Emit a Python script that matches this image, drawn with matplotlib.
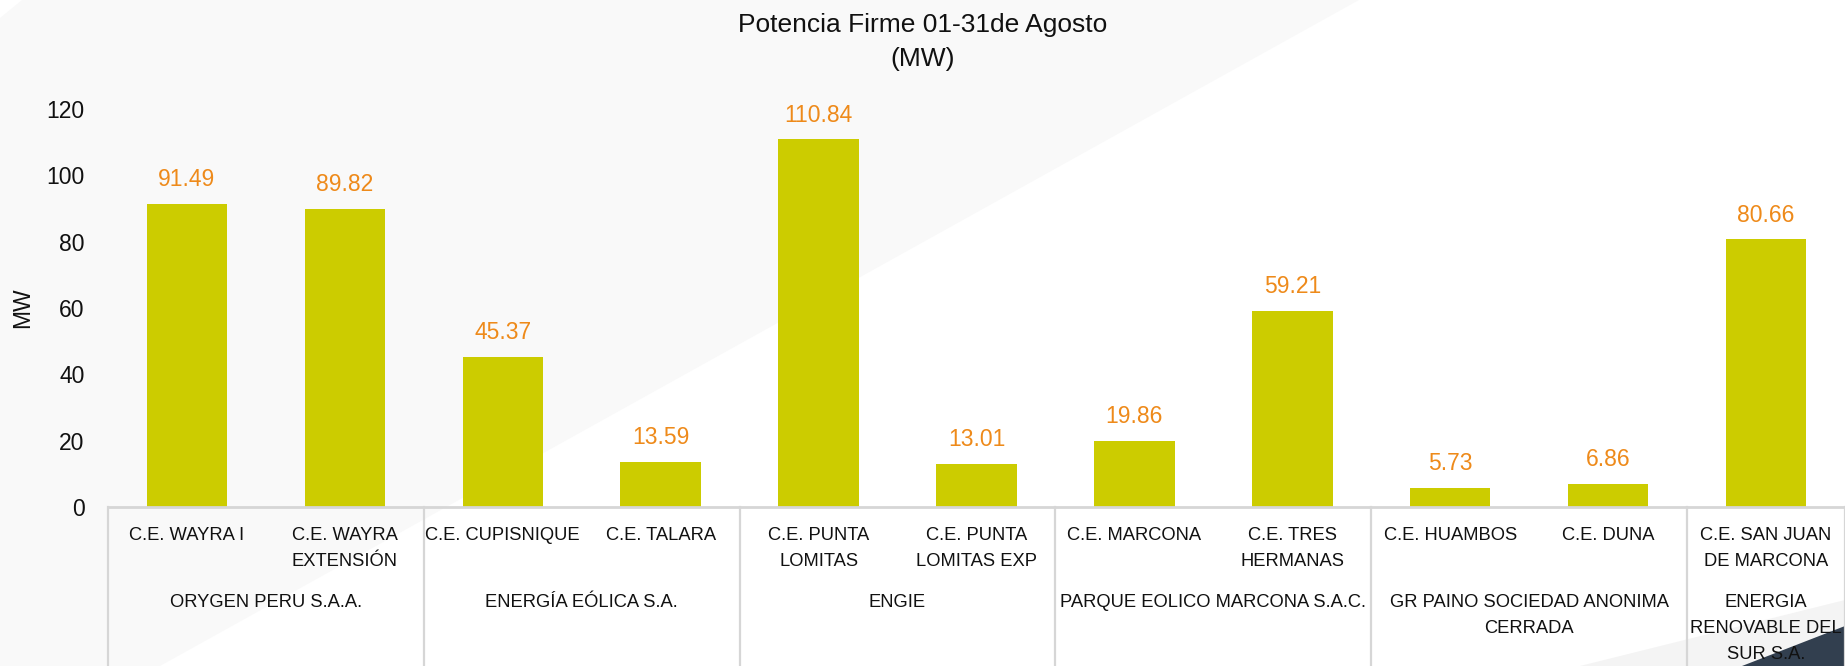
import matplotlib.pyplot as plt
from matplotlib.patches import Polygon

plt.rcParams['font.family'] = ['Liberation Sans', 'DejaVu Sans']

#%%
centrales = ['C.E. WAYRA I', 'C.E. WAYRA\nEXTENSIÓN', 'C.E. CUPISNIQUE', 'C.E. TALARA',
             'C.E. PUNTA\nLOMITAS', 'C.E. PUNTA\nLOMITAS EXP', 'C.E. MARCONA', 'C.E. TRES\nHERMANAS',
             'C.E. HUAMBOS', 'C.E. DUNA', 'C.E. SAN JUAN\nDE MARCONA']
potencia = [91.49, 89.82, 45.37, 13.59, 110.84, 13.01, 19.86, 59.21, 5.73, 6.86, 80.66]
empresas = ['ORYGEN PERU S.A.A.', 'ENERGÍA EÓLICA S.A.', 'ENGIE', 'PARQUE EOLICO MARCONA S.A.C.',
            'GR PAINO SOCIEDAD ANONIMA\nCERRADA', 'ENERGIA\nRENOVABLE DEL\nSUR S.A.']
n_centrales = [2, 2, 2, 2, 2, 1]

bar_color = '#CCCC00'
label_color = '#EE8A1A'
grid_color = '#d6d6d6'

#%%
W, H = 1845, 666
fig = plt.figure(figsize = (W / 100, H / 100), dpi = 100)
fig.patch.set_facecolor('white')

# fondo decorativo de la diapositiva
fondo = [
    ([(0, 1), (1359 / W, 1), (160 / W, 0), (0, 0)], '#f9f9f9'),
    ([(0, 1), (22 / W, 1), (0, 1 - 18 / H)], 'white'),
    ([(1580 / W, 0), (1, 0), (1, 66 / H)], '#f4f4f4'),
    ([(1742 / W, 0), (1, 0), (1, 40 / H)], '#323f4f'),
]
for pts, c in fondo:
    fig.patches.append(Polygon(pts, closed = True, transform = fig.transFigure,
                               facecolor = c, edgecolor = 'none', zorder = -10))

ax = fig.add_axes([108 / W, (H - 507) / H, 1737 / W, 398 / H])
ax.patch.set_alpha(0)

x = list(range(len(potencia)))
bars = ax.bar(x, potencia, width = 0.51, color = bar_color, zorder = 2)

for xi, v in zip(x, potencia):
    ax.annotate('{:.2f}'.format(v), (xi, v), xytext = (0, 17.5), textcoords = 'offset points',
                ha = 'center', va = 'center', fontsize = 16.5, color = label_color)

ax.set_xlim(-0.5, len(potencia) - 0.5)
ax.set_ylim(0, 120)
ax.set_yticks(range(0, 121, 20))
ax.tick_params(axis = 'y', length = 0, pad = 17, labelsize = 16.5, labelcolor = '#111111')
ax.set_xticks([])
for s in ax.spines.values():
    s.set_visible(False)
ax.set_ylabel('MW', fontsize = 16.5, color = '#111111')
ax.yaxis.set_label_coords(-74 / 1737, 0.5)

# tabla de categorias bajo el eje
trans = ax.get_xaxis_transform()
ax.plot([-0.5, len(potencia) - 0.5], [0, 0], color = grid_color, lw = 2, transform = trans, clip_on = False, zorder = 3)
for xi, lab in zip(x, centrales):
    ax.text(xi, -0.049, lab, transform = trans, ha = 'center', va = 'top', fontsize = 13.2,
            linespacing = 1.7, color = '#111111')

start = -0.5
ax.plot([start, start], [0, -0.45], color = grid_color, lw = 1.6, transform = trans, clip_on = False)
for emp, n in zip(empresas, n_centrales):
    end = start + n
    ax.plot([end, end], [0, -0.45], color = grid_color, lw = 1.6, transform = trans, clip_on = False)
    ax.text((start + end) / 2, -0.219, emp, transform = trans, ha = 'center', va = 'top', fontsize = 13.2,
            linespacing = 1.68, color = '#111111')
    start = end

fig.text(0.5, 1 - 13 / H, 'Potencia Firme 01-31de Agosto\n(MW)', ha = 'center', va = 'top',
         fontsize = 19, linespacing = 1.55, color = '#111111')

plt.savefig('out.png', dpi = 100, facecolor = fig.get_facecolor())
